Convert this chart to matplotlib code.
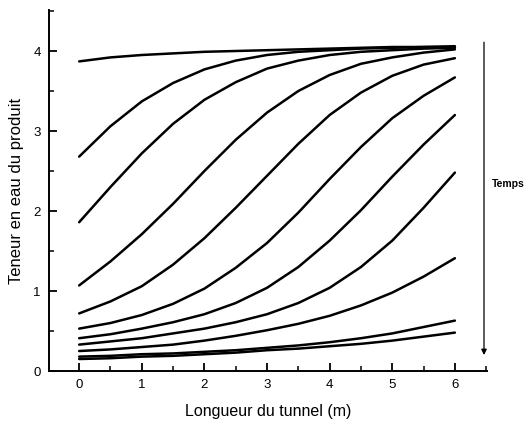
import matplotlib
matplotlib.use("Agg")
import matplotlib.pyplot as plt
from matplotlib.ticker import MultipleLocator

plt.rcParams["font.family"] = ["Liberation Sans", "DejaVu Sans"]

# tunnel length (m)
longueur = [0, 0.5, 1, 1.5, 2, 2.5, 3, 3.5, 4, 4.5, 5, 5.5, 6]

# water content profiles, one per time step
courbe_1 = [3.87, 3.92, 3.95, 3.97, 3.99, 4.00, 4.01, 4.02, 4.03, 4.04, 4.05, 4.05, 4.06]
courbe_2 = [2.68, 3.06, 3.37, 3.60, 3.77, 3.88, 3.95, 3.99, 4.01, 4.03, 4.04, 4.05, 4.05]
courbe_3 = [1.86, 2.30, 2.72, 3.09, 3.39, 3.61, 3.78, 3.88, 3.95, 3.99, 4.01, 4.03, 4.04]
courbe_4 = [1.07, 1.37, 1.71, 2.09, 2.50, 2.89, 3.23, 3.50, 3.70, 3.84, 3.92, 3.98, 4.02]
courbe_5 = [0.72, 0.87, 1.06, 1.33, 1.66, 2.04, 2.44, 2.84, 3.20, 3.48, 3.69, 3.83, 3.91]
courbe_6 = [0.53, 0.60, 0.70, 0.84, 1.03, 1.29, 1.60, 1.98, 2.40, 2.80, 3.16, 3.44, 3.67]
courbe_7 = [0.41, 0.46, 0.53, 0.61, 0.71, 0.85, 1.04, 1.30, 1.63, 2.01, 2.43, 2.83, 3.20]
courbe_8 = [0.33, 0.37, 0.41, 0.47, 0.53, 0.61, 0.71, 0.85, 1.04, 1.30, 1.63, 2.04, 2.48]
courbe_9 = [0.25, 0.27, 0.30, 0.33, 0.38, 0.44, 0.51, 0.59, 0.69, 0.82, 0.98, 1.18, 1.41]
courbe_10 = [0.18, 0.19, 0.21, 0.22, 0.24, 0.26, 0.29, 0.32, 0.36, 0.41, 0.47, 0.55, 0.63]
courbe_11 = [0.15, 0.16, 0.18, 0.19, 0.21, 0.23, 0.26, 0.28, 0.31, 0.34, 0.38, 0.43, 0.48]

courbes = [courbe_1, courbe_2, courbe_3, courbe_4, courbe_5, courbe_6,
           courbe_7, courbe_8, courbe_9, courbe_10, courbe_11]

fig = plt.figure(figsize=(5.28, 4.25), dpi=100)
ax = fig.add_axes([0.093, 0.127, 0.829, 0.849])

for c in courbes:
    ax.plot(longueur, c, color="black", linewidth=1.8,
            solid_capstyle="round", solid_joinstyle="round")

ax.set_xlim(-0.48, 6.51)
ax.set_ylim(0, 4.51)
ax.spines["top"].set_visible(False)
ax.spines["right"].set_visible(False)
ax.spines["left"].set_linewidth(1.4)
ax.spines["bottom"].set_linewidth(1.4)

ax.xaxis.set_major_locator(MultipleLocator(1))
ax.xaxis.set_minor_locator(MultipleLocator(0.5))
ax.yaxis.set_major_locator(MultipleLocator(1))
ax.yaxis.set_minor_locator(MultipleLocator(0.5))
ax.tick_params(which="major", direction="in", length=6, width=1.3, labelsize=9.5, pad=6)
ax.tick_params(which="minor", direction="in", length=3.5, width=1.1)

ax.set_xlabel("Longueur du tunnel (m)", fontsize=11.5, labelpad=9)
ax.set_ylabel("Teneur en eau du produit", fontsize=12, labelpad=7)

# time arrow on the right
ax.annotate("", xy=(6.465, 0.2), xytext=(6.465, 4.11),
            arrowprops=dict(arrowstyle="-|>", color="black", lw=0.9,
                            mutation_scale=8, shrinkA=0, shrinkB=0),
            annotation_clip=False)
fig.text(492 / 528, 1 - 184 / 425, "Temps", fontsize=7.5, fontweight="bold",
         ha="left", va="center")

fig.savefig("out.png", dpi=100)
